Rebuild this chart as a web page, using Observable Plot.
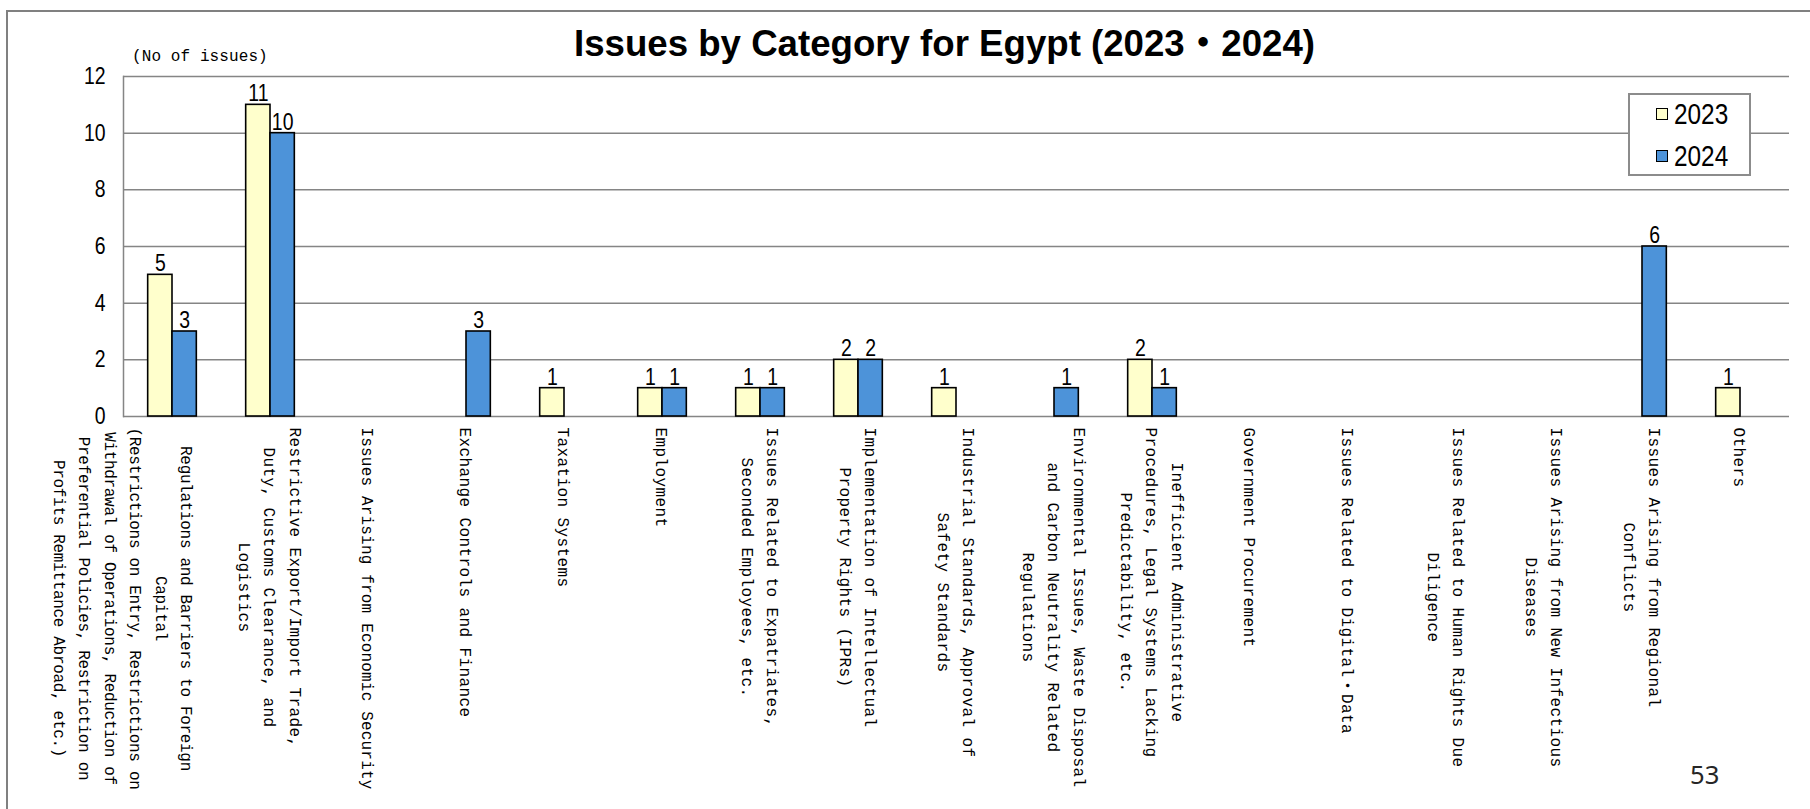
<!DOCTYPE html>
<html>
<head>
<meta charset="utf-8">
<script src="https://cdn.jsdelivr.net/npm/d3@7"></script>
<script src="https://cdn.jsdelivr.net/npm/@observablehq/plot@0.6"></script>
<style>
  html, body { margin: 0; padding: 0; background: #fff; }
  #wrap { position: relative; width: 1810px; height: 809px; overflow: hidden; background: #fff; }
  #border { position: absolute; left: 6px; top: 10px; width: 1900px; height: 900px;
            border-left: 2px solid #808080; border-top: 2px solid #808080; }
  #chart { position: absolute; left: 0; top: 0; }
  #title { position: absolute; left: 574px; top: 25px; font: bold 37px "Liberation Sans", "Noto Sans CJK JP", sans-serif;
           white-space: nowrap; transform-origin: 0 0; line-height: 1; color: #000; }
  #unit { position: absolute; left: 132px; top: 49px; font: 16px "Liberation Mono", "DejaVu Sans Mono", monospace;
          letter-spacing: 0.1px; white-space: nowrap; line-height: 1; color: #000; }
  #legend { position: absolute; left: 1628px; top: 93px; width: 119px; height: 79px;
            border: 2px solid #8c8c8c; background: #fff; }
  #legend .row { position: absolute; left: 0; height: 42px; display: flex; align-items: center; }
  #legend .sw { width: 10px; height: 10px; border: 1.5px solid #000; margin-left: 26px; margin-right: 6px; }
  #legend .lb { font: 29px "Liberation Sans", Arial, sans-serif; line-height: 1; transform: scaleX(0.84); transform-origin: 0 50%; }
  #page { position: absolute; left: 1690px; top: 762px; font: 25.6px "Noto Sans", sans-serif; line-height: 1; color: #262626; }
</style>
</head>
<body>
<div id="wrap">
  <div id="border"></div>
  <div id="chart"></div>
  <div id="title"></div>
  <div id="unit"></div>
  <div id="legend"></div>
  <div id="page"></div>
</div>
<script>
// ---------------- data ----------------
const titleText = "Issues by Category for Egypt (2023・2024)";
const unitText = "(No of issues)";
const pageNumber = "53";

const categories = [
  "Regulations and Barriers to Foreign Capital",
  "Restrictive Export/Import Trade, Duty, Customs Clearance, and Logistics",
  "Issues Arising from Economic Security",
  "Exchange Controls and Finance",
  "Taxation Systems",
  "Employment",
  "Issues Related to Expatriates, Seconded Employees, etc.",
  "Implementation of Intellectual Property Rights (IPRs)",
  "Industrial Standards, Approval of Safety Standards",
  "Environmental Issues, Waste Disposal and Carbon Neutrality Related Regulations",
  "Inefficient Administrative Procedures, Legal Systems Lacking Predictability, etc.",
  "Government Procurement",
  "Issues Related to Digital・Data",
  "Issues Related to Human Rights Due Diligence",
  "Issues Arising from New Infectious Diseases",
  "Issues Arising from Regional Conflicts",
  "Others"
];

const tickLabels = [
  "Regulations and Barriers to Foreign\nCapital\n(Restrictions on Entry, Restrictions on\nWithdrawal of Operations, Reduction of\nPreferential Policies, Restriction on\nProfits Remittance Abroad, etc.)",
  "Restrictive Export/Import Trade,\nDuty, Customs Clearance, and\nLogistics",
  "Issues Arising from Economic Security",
  "Exchange Controls and Finance",
  "Taxation Systems",
  "Employment",
  "Issues Related to Expatriates,\nSeconded Employees, etc.",
  "Implementation of Intellectual\nProperty Rights (IPRs)",
  "Industrial Standards, Approval of\nSafety Standards",
  "Environmental Issues, Waste Disposal\nand Carbon Neutrality Related\nRegulations",
  "Inefficient Administrative\nProcedures, Legal Systems Lacking\nPredictability, etc.",
  "Government Procurement",
  "Issues Related to Digital・Data",
  "Issues Related to Human Rights Due\nDiligence",
  "Issues Arising from New Infectious\nDiseases",
  "Issues Arising from Regional\nConflicts",
  "Others"
];

const years = ["2023", "2024"];
const issues2023 = [5, 11, 0, 0, 1, 1, 1, 2, 1, 0, 2, 0, 0, 0, 0, 0, 1];
const issues2024 = [3, 10, 0, 3, 0, 1, 1, 2, 0, 1, 1, 0, 0, 0, 0, 6, 0];
const yTicks = [0, 2, 4, 6, 8, 10, 12];
const colors = ["#FFFFCC", "#4D93D9"];

// ---------------- build ----------------
const rows = categories.flatMap((c, i) => [
  {category: c, year: years[0], value: issues2023[i]},
  {category: c, year: years[1], value: issues2024[i]}
]).filter(d => d.value > 0);

const labelRows = categories.map((c, i) => ({category: c, label: tickLabels[i]}));

const numFont = '"Liberation Sans", Arial, sans-serif';
const monoFont = '"Liberation Mono", "DejaVu Sans Mono", "Noto Sans CJK JP", monospace';
const grid = "#858585";

const labelOpts = {
  fx: "category", text: "label", frameAnchor: "bottom", dy: 11, rotate: 90,
  textAnchor: "middle", lineAnchor: "middle", lineHeight: 1.59,
  fontSize: 16, fontFamily: monoFont, fill: "#000"
};

const chart = Plot.plot({
  width: 1810,
  height: 809,
  marginLeft: 123,
  marginRight: 21,
  marginTop: 76,
  marginBottom: 393,
  style: {background: "transparent", overflow: "visible", color: "#000"},
  fx: {domain: categories, padding: 0, round: false, axis: null},
  x: {domain: years, paddingInner: 0, paddingOuter: 1.015, round: false, axis: null},
  y: {domain: [0, 12], axis: null},
  color: {domain: years, range: colors},
  marks: [
    Plot.ruleY(yTicks, {stroke: grid, strokeWidth: 1.5}),
    Plot.frame({anchor: "left", facetAnchor: "left", stroke: grid, strokeWidth: 1.5}),
    Plot.axisY(yTicks, {tickSize: 0, tickPadding: 18, fontSize: 23.7, fontFamily: numFont, label: null, fill: "#000"}),
    Plot.barY(rows, {fx: "category", x: "year", y: "value", fill: "year", stroke: "#000", strokeWidth: 1.6}),
    Plot.text(rows, {fx: "category", x: "year", y: "value", text: d => String(d.value),
      lineAnchor: "bottom", dy: -3.5, fontSize: 23.7, fontFamily: numFont, fill: "#000"}),
    Plot.text(labelRows.slice(1), {...labelOpts, dx: 2}),
    Plot.text(labelRows.slice(0, 1), {...labelOpts, dx: -47})
  ]
});

document.getElementById("chart").appendChild(chart);

// Narrow the numeric labels (the original uses a condensed gothic face).
chart.querySelectorAll("text").forEach(t => {
  const tr = t.getAttribute("transform") || "";
  if (tr.includes("rotate(90)")) return;
  const ff = getComputedStyle(t).fontFamily || "";
  if (ff.startsWith('"Liberation Sans"')) {
    t.setAttribute("transform", (tr ? tr + " " : "") + "scale(0.82,1)");
  }
});

// Align each rotated multi-line label so its longest line starts just below the axis,
// with shorter lines centred on it (as in the original).
const maxLabelLen = 362;
chart.querySelectorAll('text[transform*="rotate(90)"]').forEach(t => {
  t.style.letterSpacing = "0.4px";
  let b = t.getBBox();
  if (b.width > maxLabelLen) {
    const lines = Array.from(t.querySelectorAll("tspan")).map(s => s.textContent.length);
    const n = lines.length ? Math.max(...lines) : t.textContent.length;
    t.style.letterSpacing = (0.4 - (b.width - maxLabelLen) / n) + "px";
    b = t.getBBox();
  }
  t.setAttribute("transform", t.getAttribute("transform") + ` translate(${-b.x},0)`);
});

// Title, unit, legend, page number
const title = document.getElementById("title");
title.textContent = titleText;
const tw = title.getBoundingClientRect().width;
title.style.transform = `scaleX(${741 / tw})`;

document.getElementById("unit").textContent = unitText;
document.getElementById("page").textContent = pageNumber;

const legend = document.getElementById("legend");
years.forEach((y, i) => {
  const row = document.createElement("div");
  row.className = "row";
  row.style.top = (-2 + 42 * i) + "px";
  const sw = document.createElement("div");
  sw.className = "sw";
  sw.style.background = colors[i];
  const lb = document.createElement("div");
  lb.className = "lb";
  lb.textContent = y;
  row.appendChild(sw);
  row.appendChild(lb);
  legend.appendChild(row);
});
</script>
</body>
</html>
